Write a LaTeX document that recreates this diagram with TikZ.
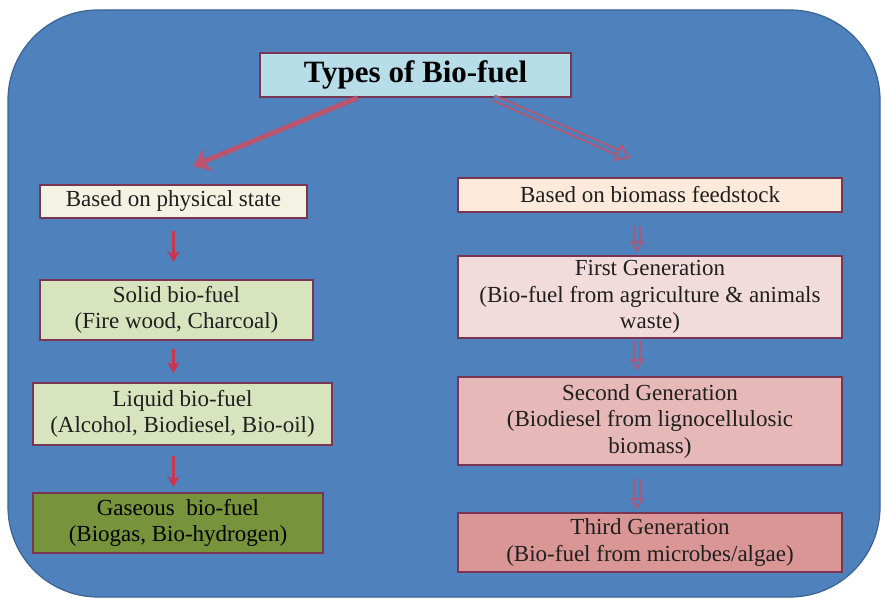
\documentclass[tikz,border=0pt]{standalone}
\usepackage{fontspec}
\setmainfont{Liberation Serif}
\usetikzlibrary{arrows.meta}

\definecolor{panelblue}{HTML}{4F81BD}
\definecolor{paneledge}{HTML}{3A6494}
\definecolor{boxedge}{HTML}{7A3553}
\definecolor{arrowred}{HTML}{C8374F}
\definecolor{titlearrow}{HTML}{BA5570}
\definecolor{hollowedge}{HTML}{A85A7C}

\begin{document}
\begin{tikzpicture}[
    x=1pt, y=-1pt,
    box/.style={rectangle, draw=boxedge, line width=1.6pt, align=center, inner sep=2pt, text=black!88, font=\fontsize{23}{26.5}\selectfont},
    titlebox/.style={box, fill={rgb,255:red,183;green,222;blue,232}, font=\fontsize{31}{36}\selectfont\bfseries, text=black},
    statebox/.style={box, fill={rgb,255:red,243;green,243;blue,227}},
    solidbox/.style={box, fill={rgb,255:red,215;green,228;blue,189}},
    gasbox/.style={box, fill={rgb,255:red,119;green,147;blue,60}, text=black},
    feedbox/.style={box, fill={rgb,255:red,253;green,234;blue,218}},
    genone/.style={box, fill={rgb,255:red,242;green,220;blue,219}},
    gentwo/.style={box, fill={rgb,255:red,230;green,185;blue,184}},
    genthree/.style={box, fill={rgb,255:red,217;green,150;blue,148}},
    redarrow/.style={-{Stealth[length=11pt, width=12pt, inset=3pt]}, line width=2.2pt, draw=arrowred},
    hollowarrow/.style={-{Triangle[open, length=11pt, width=14pt]}, draw=hollowedge, line width=1.8pt, double=panelblue, double distance=4pt},
    bigarrow/.style={-{Stealth[length=16pt, width=24pt, inset=4pt]}, line width=5pt, draw=titlearrow},
    bighollow/.style={-{Triangle[open, length=14pt, width=19pt]}, draw=titlearrow, line width=1.8pt, double=panelblue, double distance=3.5pt}
]
    \useasboundingbox (0,0) rectangle (883,599);
    \fill[white] (0,0) rectangle (883,599);

    % background panel
    \draw[fill=panelblue, draw=paneledge, line width=1.2pt, rounded corners=90pt] (8,10) rectangle (880,597);

    \node (title) at (415.5,75) [titlebox, minimum width=311pt, minimum height=44pt] {Types of Bio-fuel};

    % physical state branch
    \node (phys) at (173.5,201.5) [statebox, minimum width=267pt, minimum height=33pt] {Based on physical state};
    \node (solid) at (176.5,310) [solidbox, minimum width=273pt, minimum height=60pt] {Solid bio-fuel \\ (Fire wood, Charcoal)};
    \node (liquid) at (182.5,414) [solidbox, minimum width=299pt, minimum height=62pt] {Liquid bio-fuel \\ (Alcohol, Biodiesel, Bio-oil)};
    \node (gaseous) at (178,523) [gasbox, minimum width=290pt, minimum height=60pt] {Gaseous~ bio-fuel \\ (Biogas, Bio-hydrogen)};

    % feedstock branch
    \node (feed) at (650,195) [feedbox, minimum width=384pt, minimum height=34pt] {Based on biomass feedstock};
    \node (first) at (650,297) [genone, minimum width=384pt, minimum height=82pt] {First Generation \\ (Bio-fuel from agriculture \& animals \\ waste)};
    \node (second) at (650,421) [gentwo, minimum width=384pt, minimum height=88pt] {Second Generation \\ (Biodiesel from lignocellulosic \\ biomass)};
    \node (third) at (650,542.5) [genthree, minimum width=384pt, minimum height=59pt] {Third Generation \\ (Bio-fuel from microbes/algae)};

    \coordinate (ltip) at (193,166);
    \coordinate (rtip) at (630,158);

    \draw[bigarrow] ([xshift=-58pt]title.south) -- (ltip);
    \draw[bighollow] ([xshift=78pt]title.south) -- (rtip);

    \draw[redarrow, shorten <=12pt, shorten >=17pt] (phys.south) -- (phys.south |- solid.north);
    \draw[redarrow, shorten <=8pt, shorten >=9pt] (phys.south |- solid.south) -- (phys.south |- liquid.north);
    \draw[redarrow, shorten <=10pt, shorten >=5pt] (phys.south |- liquid.south) -- (phys.south |- gaseous.north);

    \draw[hollowarrow, shorten <=13pt, shorten >=3pt] ([xshift=-13pt]feed.south) -- ([xshift=-13pt]feed.south |- first.north);
    \draw[hollowarrow, shorten <=1pt, shorten >=6pt] ([xshift=-13pt]first.south) -- ([xshift=-13pt]first.south |- second.north);
    \draw[hollowarrow, shorten <=13pt, shorten >=3pt] ([xshift=-13pt]second.south) -- ([xshift=-13pt]second.south |- third.north);
\end{tikzpicture}
\end{document}
